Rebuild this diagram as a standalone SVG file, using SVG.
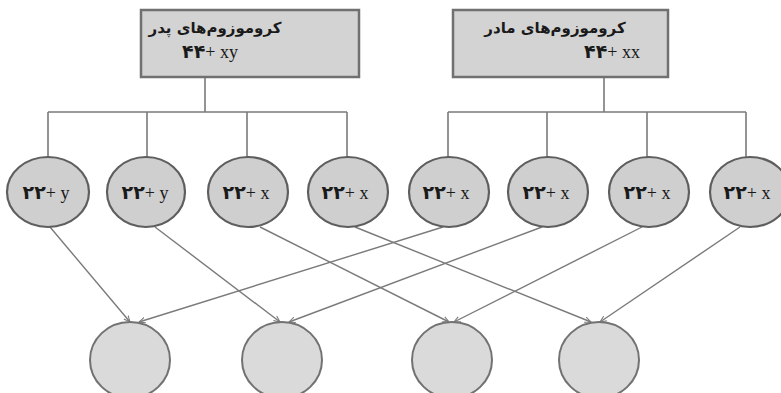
<svg xmlns="http://www.w3.org/2000/svg" width="781" height="393" viewBox="0 0 781 393">
<style>
.box{fill:#d3d3d3;stroke:#707070;stroke-width:2.5}
.c{fill:#cfcfcf;stroke:#5e5e5e;stroke-width:2.2}
.b{fill:#dadada;stroke:#727272;stroke-width:2}
.ln{fill:none;stroke:#7a7a7a;stroke-width:1.6}
.ar{fill:none;stroke:#7a7a7a;stroke-width:1.4;marker-end:url(#ah)}
.fa{font-family:"DejaVu Sans","Noto Sans",sans-serif;font-weight:bold;fill:#1a1a1a}
.lat{font-family:"Liberation Serif",serif;fill:#1a1a1a}
</style>
<defs>
<marker id="ah" viewBox="0 0 10 10" refX="9" refY="5" markerWidth="7" markerHeight="7" orient="auto" markerUnits="userSpaceOnUse">
<path d="M0,1 L9,5 L0,9" fill="none" stroke="#7a7a7a" stroke-width="1.5"/>
</marker>
</defs>
<rect width="781" height="393" fill="#fff"/>
<g id="connectors">
<path class="ln" d="M205,77 V112 M48,112 H347 M48,112 V157 M147,112 V157 M247,112 V157 M347,112 V157"/>
<path class="ln" d="M604,77 V112 M448,112 H746 M448,112 V157 M547,112 V157 M647,112 V157 M746,112 V157"/>
<line class="ar" x1="50" y1="227" x2="130" y2="322"/>
<line class="ar" x1="155" y1="227" x2="280" y2="322"/>
<line class="ar" x1="260" y1="227" x2="449" y2="322"/>
<line class="ar" x1="355" y1="227" x2="591" y2="322"/>
<line class="ar" x1="443" y1="227" x2="139" y2="322"/>
<line class="ar" x1="542" y1="227" x2="289" y2="322"/>
<line class="ar" x1="642" y1="227" x2="454" y2="322"/>
<line class="ar" x1="740" y1="227" x2="600" y2="322"/>
</g>
<g id="father">
<rect class="box" x="141" y="10" width="218" height="67"/>
<text class="fa" x="215" y="33" font-size="15" text-anchor="middle">کروموزوم‌های پدر</text>
<text x="210" y="58" text-anchor="middle"><tspan class="fa" font-size="19">۴۴</tspan><tspan class="lat" font-size="18">+ xy</tspan></text>
</g>
<g id="mother">
<rect class="box" x="453" y="10" width="215" height="67"/>
<text class="fa" x="555" y="33" font-size="15" text-anchor="middle">کروموزوم‌های مادر</text>
<text x="612" y="58" text-anchor="middle"><tspan class="fa" font-size="19">۴۴</tspan><tspan class="lat" font-size="18">+ xx</tspan></text>
</g>
<g id="f1"><ellipse class="c" cx="48" cy="192" rx="41" ry="35"/><text x="46" y="199" text-anchor="middle"><tspan class="fa" font-size="19">۲۲</tspan><tspan class="lat" font-size="18">+ y</tspan></text></g>
<g id="f2"><ellipse class="c" cx="146" cy="192" rx="39" ry="35"/><text x="145" y="199" text-anchor="middle"><tspan class="fa" font-size="19">۲۲</tspan><tspan class="lat" font-size="18">+ y</tspan></text></g>
<g id="f3"><ellipse class="c" cx="248" cy="192" rx="40" ry="35"/><text x="246" y="199" text-anchor="middle"><tspan class="fa" font-size="19">۲۲</tspan><tspan class="lat" font-size="18">+ x</tspan></text></g>
<g id="f4"><ellipse class="c" cx="348" cy="192" rx="40" ry="35"/><text x="345" y="199" text-anchor="middle"><tspan class="fa" font-size="19">۲۲</tspan><tspan class="lat" font-size="18">+ x</tspan></text></g>
<g id="m1"><ellipse class="c" cx="449" cy="192" rx="40" ry="35"/><text x="446" y="199" text-anchor="middle"><tspan class="fa" font-size="19">۲۲</tspan><tspan class="lat" font-size="18">+ x</tspan></text></g>
<g id="m2"><ellipse class="c" cx="548" cy="192" rx="40" ry="35"/><text x="546" y="199" text-anchor="middle"><tspan class="fa" font-size="19">۲۲</tspan><tspan class="lat" font-size="18">+ x</tspan></text></g>
<g id="m3"><ellipse class="c" cx="649" cy="192" rx="40" ry="35"/><text x="647" y="199" text-anchor="middle"><tspan class="fa" font-size="19">۲۲</tspan><tspan class="lat" font-size="18">+ x</tspan></text></g>
<g id="m4"><ellipse class="c" cx="750" cy="192" rx="40" ry="35"/><text x="747" y="199" text-anchor="middle"><tspan class="fa" font-size="19">۲۲</tspan><tspan class="lat" font-size="18">+ x</tspan></text></g>
<g id="z1"><ellipse class="b" cx="130" cy="360" rx="40" ry="38"/></g>
<g id="z2"><ellipse class="b" cx="282" cy="360" rx="40" ry="38"/></g>
<g id="z3"><ellipse class="b" cx="452" cy="360" rx="40" ry="38"/></g>
<g id="z4"><ellipse class="b" cx="599" cy="360" rx="40" ry="38"/></g>
</svg>
